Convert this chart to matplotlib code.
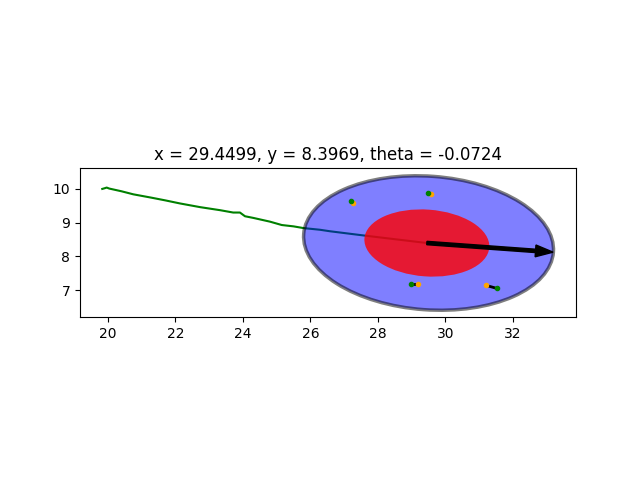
import numpy as np
import matplotlib
matplotlib.use("Agg")
import matplotlib.pyplot as plt
from matplotlib.patches import Ellipse

# robot pose
x, y, theta = 29.4499, 8.3969, -0.0724

# trajectory
path_x = [19.83, 19.90, 19.96, 20.04, 20.40, 20.75, 21.29, 21.70, 22.13, 22.73,
          23.32, 23.71, 23.91, 24.06, 24.31, 24.80, 25.15, 25.50, 25.79, 26.28,
          26.58, 27.50, 28.50, 29.4499]
path_y = [10.00, 10.02, 10.04, 10.01, 9.93, 9.84, 9.74, 9.66, 9.57, 9.46,
          9.37, 9.30, 9.30, 9.19, 9.14, 9.03, 8.93, 8.89, 8.84, 8.79,
          8.745, 8.63, 8.51, 8.3969]

# landmarks: true (green) and estimated (orange)
lm_true_x = [27.20, 29.49, 28.99, 31.53]
lm_true_y = [9.65, 9.87, 7.17, 7.05]
lm_est_x = [27.27, 29.56, 29.20, 31.21]
lm_est_y = [9.58, 9.84, 7.17, 7.14]

# covariance ellipse size (2 sigma and 1 sigma)
ell_w, ell_h = 7.42, 3.96

fig, ax = plt.subplots(figsize=(6.4, 4.8), dpi=100)

ax.plot(path_x, path_y, color="green", lw=1.5, zorder=1)

ang = np.degrees(theta)
ax.add_patch(Ellipse((x + 0.05, y), ell_w, ell_h, angle=ang, facecolor="blue",
                     edgecolor="black", lw=2.5, alpha=0.5, zorder=2))
ax.add_patch(Ellipse((x, y), ell_w / 2, ell_h / 2, angle=ang, facecolor="red",
                     edgecolor="none", alpha=0.8, zorder=2))

for i in range(len(lm_true_x)):
    ax.plot([lm_true_x[i], lm_est_x[i]], [lm_true_y[i], lm_est_y[i]],
            color="black", lw=2, zorder=3)
ax.scatter(lm_est_x, lm_est_y, s=9, color="orange", zorder=3)
ax.scatter(lm_true_x, lm_true_y, s=9, color="green", zorder=3)

L = 3.75
ax.arrow(x, y, L * np.cos(theta), L * np.sin(theta), width=0.1, head_width=0.35,
         head_length=0.52, length_includes_head=True, color="black", zorder=4)

ax.set_aspect("equal")
ax.set_xlim(19.17, 33.87)
ax.set_ylim(6.21, 10.62)
ax.set_title("x = %.4f, y = %.4f, theta = %.4f" % (x, y, theta))

plt.savefig("out.png")
